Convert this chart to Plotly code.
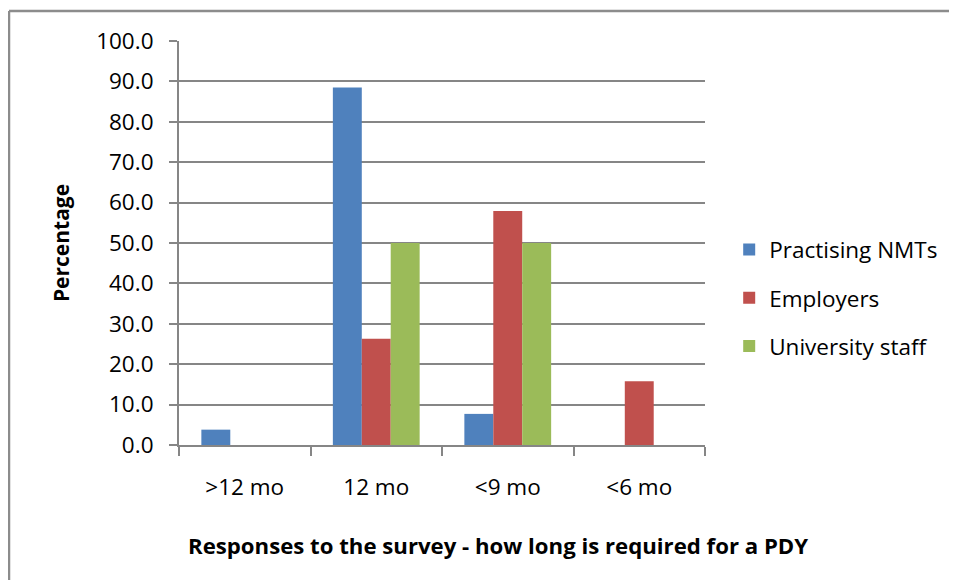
import plotly.graph_objects as go

categories = [">12 mo", "12 mo", "<9 mo", "<6 mo"]
practising_nmts = [3.8, 88.5, 7.7, 0.0]
employers = [0.0, 26.3, 57.9, 15.8]
university_staff = [0.0, 50.0, 50.0, 0.0]
y_ticks = [0, 10, 20, 30, 40, 50, 60, 70, 80, 90, 100]
x_title = "Responses to the survey - how long is required for a PDY"

FONT = "Open Sans, Lato, Liberation Sans, sans-serif"
OFF = 8  # browser default body margin

fig = go.Figure()
for name, vals, color in [
    ("Practising NMTs", practising_nmts, "#4F81BD"),
    ("Employers", employers, "#C0504D"),
    ("University staff", university_staff, "#9BBB59"),
]:
    fig.add_trace(go.Bar(x=categories, y=vals, name=name, marker_color=color,
                         marker_line_width=0, legendgroup=name))

W, H = 957 - OFF, 580 - OFF
L, T = 179 - OFF, 41 - OFF
PW, PH = 526, 404
fig.update_layout(
    width=W, height=H,
    margin=dict(l=L, r=W - (705 - OFF), t=T, b=H - (445 - OFF)),
    paper_bgcolor="white", plot_bgcolor="white",
    barmode="group", bargap=0.34, bargroupgap=0,
    font=dict(family=FONT, size=22, color="black"),
    legend=dict(x=1.046, y=0.364, xanchor="left", yanchor="middle",
                font=dict(size=22.5), tracegroupgap=16, itemwidth=30),
    showlegend=True,
)
fig.update_xaxes(
    showline=True, linecolor="#868686", linewidth=2,
    ticks="outside", ticklen=9, tickcolor="#868686", tickwidth=2,
    tickson="boundaries", showgrid=False, ticklabelstandoff=21,
    tickfont=dict(size=22.5),
)
fig.update_yaxes(
    range=[0, 100], tickvals=y_ticks, tickformat=".1f",
    showgrid=True, gridcolor="#868686", gridwidth=2,
    showline=True, linecolor="#868686", linewidth=2,
    ticks="outside", ticklen=8, tickcolor="#868686", tickwidth=2,
    zeroline=False, ticklabelstandoff=11,
    title=dict(text="<b>Percentage</b>", font=dict(size=21), standoff=21),
    tickfont=dict(size=22.5),
)
fig.add_annotation(text="<b>" + x_title + "</b>", xref="paper", yref="paper",
                   x=(498 - 179) / PW, y=-(545 - 445) / PH,
                   xanchor="center", yanchor="middle", showarrow=False,
                   font=dict(size=22.2, family=FONT, color="black"))
# chart frame: left and top edges
bx = (9 - OFF - L) / PW
ty = 1 + (T - (11 - OFF)) / PH
fig.add_shape(type="line", xref="paper", yref="paper",
              x0=bx, x1=bx, y0=ty, y1=-(H - T - PH) / PH - 0.05,
              line=dict(color="#8c8c8c", width=2.5))
fig.add_shape(type="line", xref="paper", yref="paper",
              x0=bx, x1=(W + 10 - L) / PW, y0=ty, y1=ty,
              line=dict(color="#8c8c8c", width=2.5))

fig.write_html("out.html")
